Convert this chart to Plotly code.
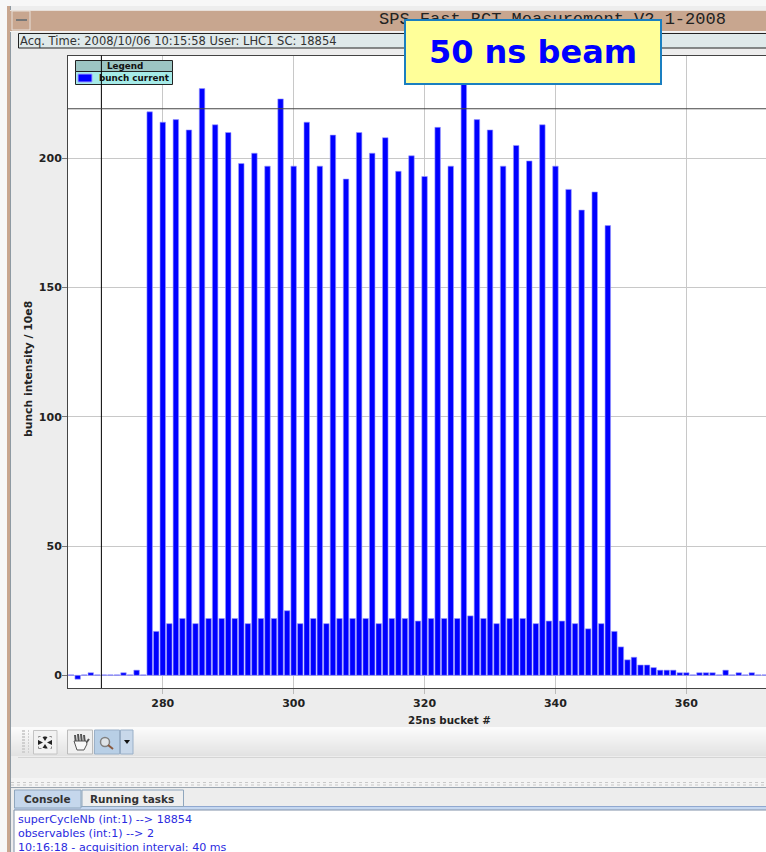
import plotly.graph_objects as go

W, H = 766, 852

# ---- data ----
buckets = list(range(266, 373))
intensity = [
    0.2, -1.5, 0.2, 1, 0.2, 0.2, 0.2, 0.2, 1, 0.2, 2, 0.2,     # 266-277
    218, 17, 214, 20, 215, 22, 211, 20, 227, 22, 213, 22,      # 278-289
    210, 22, 198, 20, 202, 22, 197, 22, 223, 25, 197, 20,      # 290-301
    214, 22, 197, 20, 209, 22, 192, 22, 210, 22, 202, 20,      # 302-313
    208, 22, 195, 22, 201, 21, 193, 22, 212, 22, 197, 22,      # 314-325
    232, 23, 215, 22, 211, 20, 197, 22, 205, 22, 199, 20,      # 326-337
    213, 21, 197, 21, 188, 20, 180, 18, 187, 20, 174, 17,      # 338-349
    11, 6, 7, 4, 4, 3, 2, 2, 2, 1, 1, 0.2,                     # 350-361
    1, 1, 1, 0.2, 2, 0.2, 1, 0.2, 1, 0.2, 0.2,                 # 362-372
]
x_ticks = [280, 300, 320, 340, 360]
y_ticks = [0, 50, 100, 150, 200]
cursor_x = 270.62
cursor_y = 219.2
series_name = "bunch current"
x_title = "25ns bucket #"
y_title = "bunch intensity / 10e8"
title_text = "SPS Fast BCT Measurement V2.1-2008"
acq_text = "Acq. Time: 2008/10/06 10:15:58 User: LHC1 SC: 18854"
callout_text = "50 ns beam"
console_lines = [
    "superCycleNb (int:1) --> 18854",
    "observables (int:1) --> 2",
    "10:16:18 - acquisition interval: 40 ms",
]

# ---- pixel helpers for the window chrome ----
def px(x):
    return x / W

def py(y):
    return 1 - y / H

shapes = []
annotations = []

def rect(x0, y0, x1, y1, fill="rgba(0,0,0,0)", line=None, lw=1, layer="above"):
    shapes.append(dict(type="rect", xref="paper", yref="paper", layer=layer,
                       x0=px(x0), x1=px(x1), y0=py(y1), y1=py(y0),
                       fillcolor=fill,
                       line=dict(color=line or "rgba(0,0,0,0)", width=lw if line else 0)))

def seg(x0, y0, x1, y1, color, lw=1, dash="solid", layer="below"):
    shapes.append(dict(type="line", xref="paper", yref="paper", layer=layer,
                       x0=px(x0), x1=px(x1), y0=py(y0), y1=py(y1),
                       line=dict(color=color, width=lw, dash=dash)))

def poly(points, fill, line=None, layer="below"):
    path = "M " + " L ".join(f"{px(a):.5f} {py(b):.5f}" for a, b in points) + " Z"
    shapes.append(dict(type="path", xref="paper", yref="paper", layer=layer, path=path,
                       fillcolor=fill,
                       line=dict(color=line or "rgba(0,0,0,0)", width=1 if line else 0)))

def label(x, y, text, size=11, color="#222", family="DejaVu Sans", anchor="left", bold=False, angle=0):
    annotations.append(dict(xref="paper", yref="paper", x=px(x), y=py(y),
                            text=f"<b>{text}</b>" if bold else text,
                            showarrow=False, xanchor=anchor, yanchor="middle", textangle=angle,
                            font=dict(size=size, color=color, family=family),
                            borderpad=0, borderwidth=0))

# outer frame, below the plot
rect(0, 0, W, 6, "#f7f7f7", layer="below")
rect(0, 0, 7, H, "#f7f7f7", layer="below")
rect(7, 6, 10, H, "#c8a68f", layer="below")
seg(10.5, 6, 10.5, H, "#8f9aa3")
rect(10, 10, W, 31, "#c8a68f", layer="below")
seg(10, 10.5, W, 10.5, "#e8e0da")
seg(10, 31.5, W, 31.5, "#f4f4f4")
rect(12, 11, 30, 30, "#c8a68f", "#e8e0da", layer="below")
seg(16, 20, 27, 20, "#777777", 2)
label(552, 19, title_text, 17, "#222", "Liberation Mono", "center")

# acquisition strip
rect(18.5, 33.5, W + 2, 48, "#dfe9ea", "#222222")
label(20, 41, acq_text, 11.5, "#333", "DejaVu Sans")

# legend
rect(75.5, 60.5, 172.5, 71.5, "#9cc5c3", "#222222")
rect(75.5, 71.5, 172.5, 84.5, "#a5ebe8", "#222222")
rect(78, 74, 92, 82, "#0000ff", "#a0a0ff")
label(124.5, 66, "Legend", 8.8, "#111", anchor="center", bold=True)
label(133.5, 78, series_name, 8.8, "#111", anchor="center", bold=True)

# callout: an annotation box so it hides the title text behind it
annotations.append(dict(xref="paper", yref="paper", x=px(533), y=py(52.5), text=f"<b>{callout_text}</b>",
                        showarrow=False, xanchor="center", yanchor="middle",
                        width=254, height=62, align="center", valign="middle",
                        bgcolor="#ffff99", bordercolor="#1a7fc0", borderwidth=2, borderpad=0,
                        font=dict(size=32, color="#0000ff", family="DejaVu Sans")))

# axis titles
label(449, 720, x_title, 10.3, "#222", anchor="center", bold=True)
label(28.5, 369.5, y_title, 10.8, "#222", anchor="center", bold=True, angle=-90)

# toolbar gradient band
for i in range(29):
    g = 251 - int(i * 0.9)
    rect(11, 727 + i, W, 728 + i, f"rgb({g},{g},{g})", layer="below")
seg(18, 757.5, W, 757.5, "#d4d4d4")
# handle
for r in range(8):
    seg(22, 731 + r * 3, 29, 731 + r * 3, "#cfcfcf", 2, "dot")
# fit button
rect(33.5, 730.5, 57, 754, "#f2f2f2", "#c4c4c4", layer="below")
rect(38.5, 736.5, 51.5, 748.5, "rgba(0,0,0,0)", "#888888", 1, layer="below")
shapes[-1]["line"]["dash"] = "dot"
poly([(45, 741), (42.5, 737), (47.5, 737)], "#222222")
poly([(45, 744), (42.5, 748), (47.5, 748)], "#222222")
poly([(43, 742.5), (38, 740), (38, 745)], "#222222")
poly([(47, 742.5), (52, 740), (52, 745)], "#222222")
# hand button
rect(67.5, 730, 92.5, 754, "#f0f0f0", "#bbbbbb", layer="below")
for a, b in [(75, 735), (78, 734), (81, 734), (84, 735)]:
    seg(a, b, a + 1, 744, "#555555", 2)
seg(86, 743, 89, 739, "#555555", 2)
poly([(74, 741), (86, 741), (87, 744), (84, 750), (77, 750)], "#f8f8f8", "#555555")
# zoom button
rect(94.5, 730, 119.5, 754, "#b8cfe6", "#9ab0c8", layer="below")
shapes.append(dict(type="circle", xref="paper", yref="paper", layer="below",
                   x0=px(100.5), x1=px(109.5), y0=py(746.5), y1=py(737.5),
                   fillcolor="#dfe4e8", line=dict(color="#808080", width=1.5)))
seg(108, 745, 113, 749, "#8a5a40", 2)
# dropdown
rect(120.5, 730, 133, 754, "#c8d8ea", "#9ab0c8", layer="below")
poly([(124, 740), (130, 740), (127, 744)], "#111111")

# splitter
rect(11, 778, W, 787, "#f4f4f4", layer="below")
seg(11, 782.5, W, 782.5, "#c8c8c8", 1, "dot")
seg(11, 785, W, 785, "#c8c8c8", 1, "dot")
seg(11, 787.5, W, 787.5, "#9aa5b0")

# tabs and console
rect(14, 807, W, 810, "#c5d7f0", layer="below")
seg(14, 806.5, W, 806.5, "#90a8d0")
rect(14, 810, W + 2, H + 2, "#ffffff", "#8090a8", layer="below")
rect(14.5, 790, 81, 808, "#c5d7ec", "#8fa6bd", layer="below")
rect(82, 790, 183.5, 806.5, "#efefef", "#8fa6bd", layer="below")
label(24, 799, "Console", 10.5, "#333", bold=True)
label(90, 799, "Running tasks", 10.5, "#333", bold=True)
for i, txt in enumerate(console_lines):
    label(17.5, 819 + i * 14, txt, 11.1, "#2a2ae0")

# cursor lines on the plot (data coordinates)
shapes.append(dict(type="line", xref="x", yref="paper", x0=cursor_x, x1=cursor_x,
                   y0=py(688), y1=py(55.5), line=dict(color="#000000", width=1)))
shapes.append(dict(type="line", xref="paper", yref="y", x0=px(68), x1=1, y0=cursor_y, y1=cursor_y,
                   line=dict(color="#444444", width=1)))

fig = go.Figure(go.Bar(
    x=buckets, y=intensity, name=series_name, width=0.84,
    marker=dict(color="#0000ff", line=dict(color="#9a9aff", width=0.6)),
))
fig.update_layout(
    width=W, height=H, autosize=False, showlegend=False,
    margin=dict(l=0, r=0, t=0, b=0, pad=0),
    paper_bgcolor="#ededed", plot_bgcolor="#ffffff",
    shapes=shapes, annotations=annotations,
    xaxis=dict(domain=[px(68), 1], range=[265.52, 372.17], tickvals=x_ticks,
               ticks="outside", ticklen=5, tickcolor="#bbbbbb", showgrid=True,
               gridcolor="#c8c8c8", gridwidth=1, zeroline=False,
               showline=True, linecolor="#444444", linewidth=1, mirror=True,
               tickfont=dict(family="DejaVu Sans", size=11, color="#222222", weight="bold")),
    yaxis=dict(domain=[py(688), py(55.5)], range=[-4.9, 239.8], tickvals=y_ticks,
               ticks="outside", ticklen=5, tickcolor="#777777", showgrid=True,
               ticklabelstandoff=-2,
               gridcolor="#c8c8c8", gridwidth=1, zeroline=False,
               showline=True, linecolor="#444444", linewidth=1, mirror=True,
               tickfont=dict(family="DejaVu Sans", size=11, color="#222222", weight="bold")),
)
fig.write_html("out.html", config=dict(displayModeBar=False, responsive=False),
               post_script="document.body.style.margin='0';document.documentElement.style.overflow='hidden';")
